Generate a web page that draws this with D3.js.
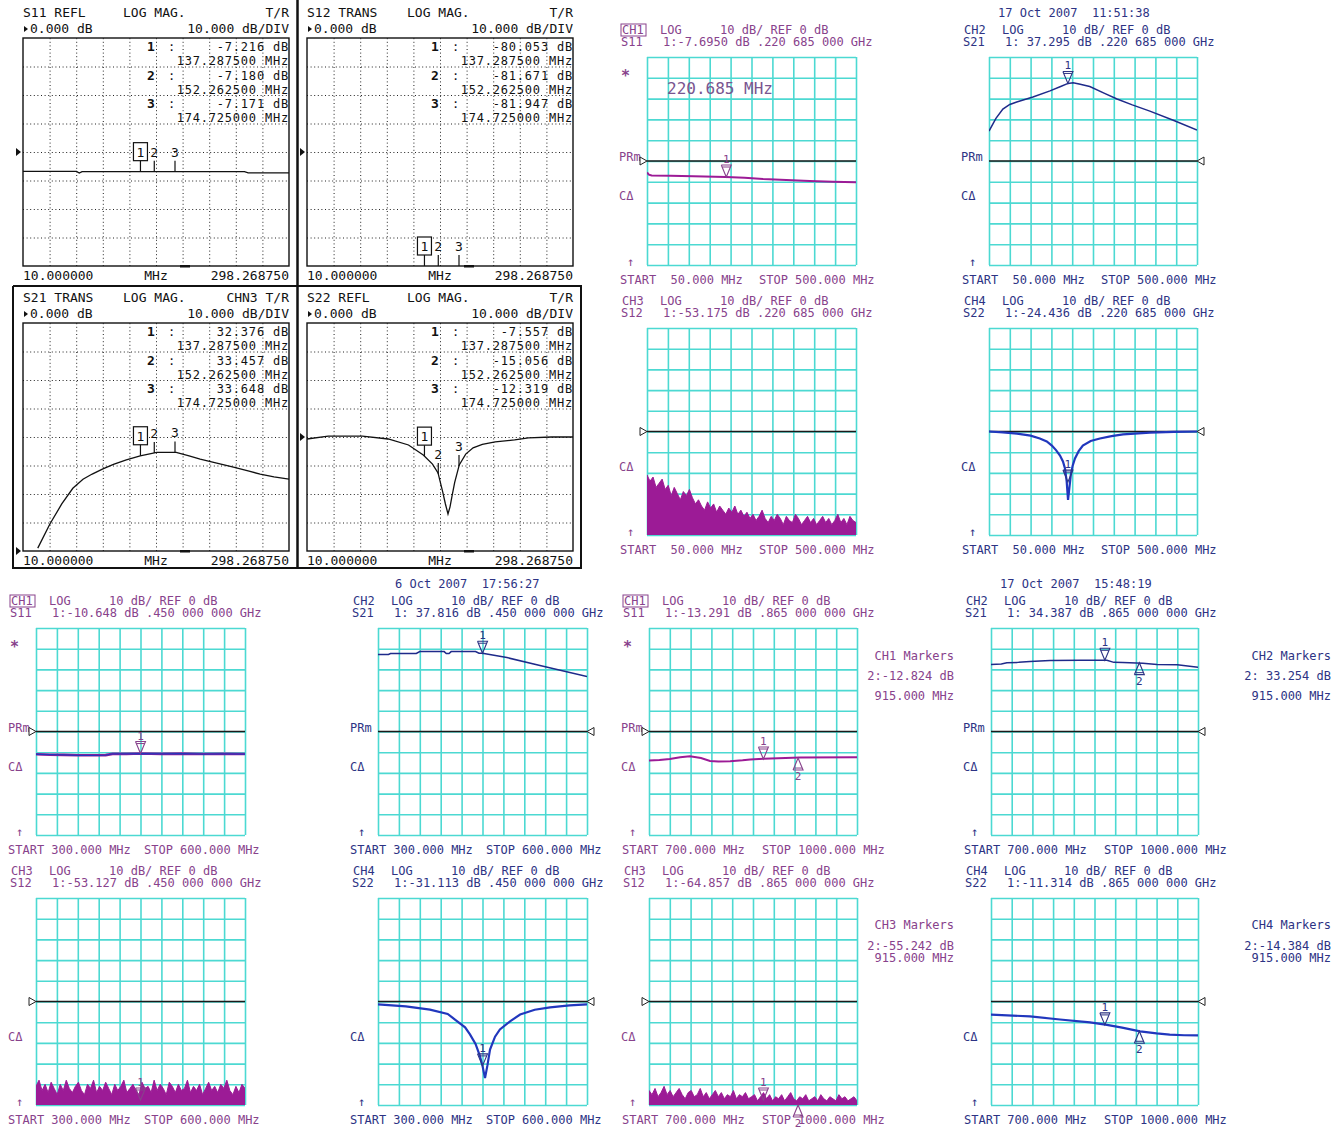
<!DOCTYPE html>
<meta charset="utf-8">

<!-- Load d3.js -->
<script src="https://d3js.org/d3.v7.min.js"></script>

<body style="margin:0;background:#fff">
<div id="screens"></div>
</body>

<style>
.dotgrid line { stroke: #222; stroke-width: 1; stroke-dasharray: 1 2.6; }
.cgrid line { stroke: #4cd9d2; stroke-width: 1.6; }
text { font-family: 'DejaVu Sans Mono', monospace; white-space: pre; }
</style>

<script>

// ---------- old analyzer screens (10 - 298.26875 MHz) ----------
var oldStart = 10, oldStop = 298.26875
var oldTitles = ["S11 REFL", "S12 TRANS", "S21 TRANS", "S22 REFL"]
var oldRightLabels = ["T/R", "T/R", "CHN3 T/R", "T/R"]
var oldMarkerFreqs = [137.2875, 152.2625, 174.725]
var oldMarkerFreqLabels = ["137.287500 MHz", "152.262500 MHz", "174.725000 MHz"]
var oldReadS11 = ["-7.216 dB", "-7.180 dB", "-7.171 dB"]
var oldReadS12 = ["-80.053 dB", "-81.671 dB", "-81.947 dB"]
var oldReadS21 = ["32.376 dB", "33.457 dB", "33.648 dB"]
var oldReadS22 = ["-7.557 dB", "-15.056 dB", "-12.319 dB"]

var oldS11Freq = [10, 68, 71, 74, 120, 180, 250, 254, 298.27]
var oldS11Db   = [-6.8, -6.8, -7.4, -6.9, -6.9, -6.9, -6.9, -7.3, -7.3]
var oldS12Freq = [10, 60, 120, 137.3, 152.3, 174.7, 230, 298.27]
var oldS12Db   = [-78, -79, -80, -80.1, -81.7, -81.9, -83, -84]
var oldS21Freq = [26, 39, 52, 64, 75, 85, 96, 108, 122, 137, 155, 176, 190, 202, 220, 238, 255, 267, 282, 298.27]
var oldS21Db   = [1.0, 9.4, 16.5, 22.0, 25.2, 27.0, 28.7, 30.4, 32.0, 33.4, 34.6, 34.6, 33.4, 32.2, 30.8, 29.4, 28.0, 27.0, 26.0, 25.2]
var oldS22Freq = [10, 33, 70, 98, 120, 136, 146, 152, 157, 160, 162.8, 165, 167, 170, 175, 182, 190, 200, 214, 235, 250, 275, 298.27]
var oldS22Db   = [-0.7, 0.3, 0.3, -0.7, -2.8, -6.3, -9.5, -12.6, -19.2, -23.5, -27, -24.5, -21, -16, -9.8, -6, -3.8, -2.6, -1.7, -1, -0.3, 0, 0]

// ---------- newer analyzer screens ----------
var channels = ["CH1", "CH2", "CH3", "CH4"]
var params = ["S11", "S21", "S12", "S22"]

// 50 - 500 MHz set
var aStart = 50, aStop = 500
var aStartLabel = "START  50.000 MHz", aStopLabel = "STOP 500.000 MHz"
var aDate = "17 Oct 2007  11:51:38"
var aReadouts = ["1:-7.6950 dB .220 685 000 GHz", "1: 37.295 dB .220 685 000 GHz",
                 "1:-53.175 dB .220 685 000 GHz", "1:-24.436 dB .220 685 000 GHz"]
var aMarkerFreq = 220.685
var aMarkerDb = [-7.695, 37.295, -53.175, -24.436]
var aMarkerShown = [true, true, false, true]
var aCenterNote = "220.685 MHz"
var aS11Freq = [50, 54, 60, 100, 150, 220, 260, 300, 350, 400, 450, 500]
var aS11Db   = [-5.5, -6.6, -7.0, -7.1, -7.3, -7.7, -8.0, -8.6, -9.1, -9.6, -10.0, -10.2]
var aS21Freq = [50, 65, 80, 95, 110, 145, 182, 205, 221, 232, 245, 268, 300, 327, 360, 398, 450, 500]
var aS21Db   = [14.4, 20.5, 25, 27.2, 28.4, 30.8, 33.7, 35.8, 37.3, 37.6, 37.0, 35.8, 32.5, 29.8, 27, 24, 19.5, 14.9]
var aS12Peaks = [-21,-24,-22,-27,-25,-23,-28,-26,-31,-27,
                 -30,-33,-29,-31,-28,-32,-35,-33,-36,-38,
                 -34,-37,-35,-39,-36,-38,-40,-37,-39,-36,
                 -40,-38,-41,-39,-42,-40,-43,-41,-38,-42,
                 -44,-41,-43,-40,-42,-45,-41,-43,-44,-40,
                 -42,-45,-43,-41,-44,-42,-45,-43,-41,-44,
                 -42,-45,-43,-40,-44,-42,-45,-41,-43,-44]
var aS22Freq = [50, 80, 110.6, 140, 160, 175, 186, 195, 203.6, 210, 214.4, 218, 221, 224, 227, 231, 236, 244, 253, 270, 290, 315, 340, 398, 450, 500]
var aS22Db   = [0, -0.4, -1, -2, -3.4, -4.8, -6.8, -9, -11.6, -14.5, -17.9, -24, -33, -27, -21, -16.5, -13, -9.5, -6.8, -4.6, -3.4, -2.2, -1.4, -0.5, -0.2, 0]

// 300 - 600 MHz set
var bStart = 300, bStop = 600
var bStartLabel = "START 300.000 MHz", bStopLabel = "STOP 600.000 MHz"
var bDate = "6 Oct 2007  17:56:27"
var bReadouts = ["1:-10.648 dB .450 000 000 GHz", "1: 37.816 dB .450 000 000 GHz",
                 "1:-53.127 dB .450 000 000 GHz", "1:-31.113 dB .450 000 000 GHz"]
var bMarkerFreq = 450
var bMarkerDb = [-10.648, 37.816, -53.127, -31.113]
var bS11Freq = [300, 320, 340, 360, 380, 400, 410, 430, 450, 480, 510, 540, 570, 600]
var bS11Db   = [-11.0, -11.2, -11.3, -11.5, -11.5, -11.4, -10.8, -10.8, -10.65, -10.8, -10.7, -10.9, -10.8, -10.9]
var bS21Freq = [300, 315, 318, 355, 360, 395, 398, 402, 405, 440, 445, 450, 485, 532.5, 600]
var bS21Db   = [37.2, 37.2, 37.7, 37.7, 38.6, 38.6, 37.7, 37.7, 38.6, 38.6, 37.8, 37.8, 35.7, 31.9, 26.6]
var bS12Peaks = [-41,-38,-43,-40,-44,-39,-42,-45,-40,-43,
                 -38,-42,-44,-41,-39,-43,-45,-40,-42,-38,
                 -44,-41,-43,-39,-42,-45,-40,-43,-41,-38,
                 -44,-42,-40,-43,-45,-39,-42,-41,-44,-38,
                 -43,-40,-42,-45,-39,-41,-44,-40,-43,-42,
                 -38,-44,-41,-43,-40,-45,-42,-39,-43,-41,
                 -44,-40,-42,-38,-43,-45,-41,-44,-40,-42]
var bS22Freq = [300, 340, 374.6, 400, 410.5, 425, 432, 440, 446, 450, 453.6, 457, 460.8, 468, 475, 490, 504, 525, 547, 575, 600]
var bS22Db   = [-1.4, -2.4, -3.9, -6, -8.7, -12.5, -15.9, -20.5, -26, -31.1, -37, -31, -23.2, -17, -13.5, -9.5, -6.3, -4, -2.8, -1.9, -1.4]

// 700 - 1000 MHz set
var cStart = 700, cStop = 1000
var cStartLabel = "START 700.000 MHz", cStopLabel = "STOP 1000.000 MHz"
var cDate = "17 Oct 2007  15:48:19"
var cReadouts = ["1:-13.291 dB .865 000 000 GHz", "1: 34.387 dB .865 000 000 GHz",
                 "1:-64.857 dB .865 000 000 GHz", "1:-11.314 dB .865 000 000 GHz"]
var cMarkerFreqs = [865, 915]
var cMarker1Db = [-13.291, 34.387, -64.857, -11.314]
var cMarker2Db = [-12.824, 33.254, -55.242, -14.384]
var cMarker2Text = ["2:-12.824 dB", "2: 33.254 dB", "2:-55.242 dB", "2:-14.384 dB"]
var cMarker2Freq = "915.000 MHz"
var cS11Freq = [700, 715, 730, 745, 759, 775, 788, 800, 817, 835, 846, 865, 918, 1000]
var cS11Db   = [-14, -13.8, -13.3, -12.4, -12.0, -12.8, -14.2, -14.5, -14.4, -13.9, -13.5, -13.2, -12.6, -12.4]
var cS21Freq = [700, 715, 723, 740, 756.5, 785.5, 830, 868, 878, 891, 920, 940.6, 970, 1000]
var cS21Db   = [32.4, 32.6, 33.2, 33.4, 33.8, 34.3, 34.4, 34.4, 33.4, 33.3, 33.0, 32.4, 32.2, 31.0]
var cS12Peaks = [-43,-45,-42,-46,-44,-41,-45,-43,-46,-44,
                 -42,-45,-47,-44,-43,-46,-45,-42,-46,-44,
                 -47,-45,-43,-46,-44,-47,-45,-46,-43,-47,
                 -45,-46,-44,-47,-46,-45,-48,-46,-44,-47,
                 -45,-48,-46,-47,-45,-48,-46,-44,-47,-48,
                 -46,-47,-45,-48,-47,-46,-48,-45,-47,-48,
                 -46,-47,-48,-45,-47,-46,-48,-47,-46,-48]
var cS22Freq = [700, 756.5, 800, 843.5, 868, 890, 916, 940, 959, 980, 1000]
var cS22Db   = [-6.3, -7.2, -8.7, -10.1, -11.3, -12.6, -14.4, -15.4, -16.0, -16.3, -16.4]

// colours
var purpleText = "#88428c", navyText = "#2d3384"
var purpleTrace = "#9c1b96", navyTrace = "#1e2a8a", blueTrace = "#2137bd"

var svg = d3.select("#screens").append("svg")
  .attr("width", 1343).attr("height", 1129)

var clipCount = 0
function clipFor(g, L, T, W, H) {
  var id = "clip" + (clipCount++)
  g.append("clipPath").attr("id", id).append("rect")
    .attr("x", L).attr("y", T).attr("width", W).attr("height", H)
  return "url(#" + id + ")"
}

function txt(g, x, y, s, o) {
  o = o || {}
  var t = g.append("text").attr("x", x).attr("y", y).text(s)
    .attr("font-size", o.size || 12).attr("fill", o.fill || "#111")
  if (o.anchor) t.attr("text-anchor", o.anchor)
  if (o.weight) t.attr("font-weight", o.weight)
  if (o.spacing) t.attr("letter-spacing", o.spacing)
  return t
}

// ---------------- old screen ----------------
function drawOldPanel(L, T, p) {
  var W = 266, H = 228, R = L + W, B = T + H
  var g = svg.append("g")
  var x = d3.scaleLinear().domain([oldStart, oldStop]).range([L, R])
  var y = d3.scaleLinear().domain(p.refBottom ? [0, 80] : [-40, 40]).range([B, T])
  var xDiv = d3.scaleLinear().domain([0, 10]).range([L, R])
  var yDiv = d3.scaleLinear().domain([0, 8]).range([B, T])

  g.append("g").attr("class", "dotgrid").attr("transform", "translate(0," + B + ")")
    .call(d3.axisBottom(xDiv).tickValues(d3.range(1, 10)).tickSize(-H).tickFormat(""))
  g.append("g").attr("class", "dotgrid").attr("transform", "translate(" + L + ",0)")
    .call(d3.axisLeft(yDiv).tickValues(d3.range(1, 8)).tickSize(-W).tickFormat(""))
  g.selectAll(".domain").remove()
  g.append("rect").attr("x", L).attr("y", T).attr("width", W).attr("height", H)
    .attr("fill", "none").attr("stroke", "#111").attr("stroke-width", 1.4)

  // header
  txt(g, L, T - 21, p.title, {size: 13})
  txt(g, L + 100, T - 21, "LOG MAG.", {size: 13})
  txt(g, R, T - 21, p.right, {size: 13, anchor: "end"})
  g.append("path").attr("d", d3.line()([[L + 1, T - 12], [L + 5, T - 9], [L + 1, T - 6]])).attr("fill", "#111")
  txt(g, L + 7, T - 5, "0.000 dB", {size: 13})
  txt(g, R, T - 5, "10.000 dB/DIV", {size: 13, anchor: "end"})

  // marker readouts
  p.readouts.forEach(function(r, i) {
    var base = T + 13 + i * 28.5
    txt(g, R - 142, base, String(i + 1), {size: 13, weight: "bold"})
    txt(g, R - 121, base, ":", {size: 12})
    txt(g, R, base, r, {size: 12, anchor: "end", spacing: 0.8})
    txt(g, R, base + 14, oldMarkerFreqLabels[i], {size: 12, anchor: "end", spacing: 0.8})
  })

  // reference pointer
  var yr = y(0)
  g.append("path").attr("d", d3.line()([[L - 7, yr - 4], [L - 2, yr], [L - 7, yr + 4]])).attr("fill", "#111")

  // trace
  var pts = p.freq.map(function(f, i) { return [f, p.db[i]] })
  g.append("path").datum(pts)
    .attr("clip-path", clipFor(g, L, T, W, H))
    .attr("fill", "none").attr("stroke", "#111").attr("stroke-width", 1.3)
    .attr("d", d3.line().x(function(d) { return x(d[0]) }).y(function(d) { return y(d[1]) }))

  // markers
  var interp = d3.scaleLinear().domain(p.freq).range(p.db).clamp(true)
  oldMarkerFreqs.forEach(function(f, i) {
    var mx = x(f), my = Math.max(T, Math.min(B, y(interp(f))))
    g.append("line").attr("x1", mx).attr("x2", mx).attr("y1", my - 11).attr("y2", my)
      .attr("stroke", "#111").attr("stroke-width", 1.2)
    if (i === 0) {
      g.append("rect").attr("x", mx - 7).attr("y", my - 29).attr("width", 14).attr("height", 18)
        .attr("fill", "#fff").attr("stroke", "#111").attr("stroke-width", 1.2)
    }
    txt(g, mx, my - 15, String(i + 1), {size: 13, anchor: "middle"})
  })

  // bottom line
  txt(g, L, B + 14, "10.000000", {size: 13})
  txt(g, L + 133, B + 14, "MHz", {size: 13, anchor: "middle"})
  txt(g, R, B + 14, "298.268750", {size: 13, anchor: "end"})
  g.append("rect").attr("x", L + 157).attr("y", B - 1).attr("width", 10).attr("height", 2.5).attr("fill", "#111")
}

drawOldPanel(23, 38, {title: oldTitles[0], right: oldRightLabels[0], readouts: oldReadS11, freq: oldS11Freq, db: oldS11Db})
drawOldPanel(307, 38, {title: oldTitles[1], right: oldRightLabels[1], readouts: oldReadS12, freq: oldS12Freq, db: oldS12Db})
drawOldPanel(23, 323, {title: oldTitles[2], right: oldRightLabels[2], readouts: oldReadS21, freq: oldS21Freq, db: oldS21Db, refBottom: true})
drawOldPanel(307, 323, {title: oldTitles[3], right: oldRightLabels[3], readouts: oldReadS22, freq: oldS22Freq, db: oldS22Db})

// frame of the old screen block
var frame = svg.append("g").attr("stroke", "#111").attr("fill", "none")
frame.append("line").attr("x1", 297.5).attr("x2", 297.5).attr("y1", 0).attr("y2", 569).attr("stroke-width", 2.5)
frame.append("line").attr("x1", 13).attr("x2", 582).attr("y1", 286).attr("y2", 286).attr("stroke-width", 2)
frame.append("line").attr("x1", 13).attr("x2", 13).attr("y1", 286).attr("y2", 569).attr("stroke-width", 2)
frame.append("line").attr("x1", 581).attr("x2", 581).attr("y1", 286).attr("y2", 569).attr("stroke-width", 2)
frame.append("line").attr("x1", 13).attr("x2", 582).attr("y1", 568).attr("y2", 568).attr("stroke-width", 2)

// ---------------- newer screen ----------------
function markerDown(g, mx, my, label, color) {
  g.append("path").attr("d", d3.line()([[mx - 5, my - 12], [mx + 5, my - 12], [mx, my], [mx - 5, my - 12]]))
    .attr("fill", "none").attr("stroke", color).attr("stroke-width", 1.1)
  g.append("line").attr("x1", mx - 4).attr("x2", mx + 4).attr("y1", my - 10).attr("y2", my - 10)
    .attr("stroke", color).attr("stroke-width", 1)
  txt(g, mx, my - 14, label, {size: 11, anchor: "middle", fill: color})
}
function markerUp(g, mx, my, label, color) {
  g.append("path").attr("d", d3.line()([[mx - 5, my + 12], [mx + 5, my + 12], [mx, my], [mx - 5, my + 12]]))
    .attr("fill", "none").attr("stroke", color).attr("stroke-width", 1.1)
  g.append("line").attr("x1", mx - 4).attr("x2", mx + 4).attr("y1", my + 10).attr("y2", my + 10)
    .attr("stroke", color).attr("stroke-width", 1)
  txt(g, mx, my + 22, label, {size: 11, anchor: "middle", fill: color})
}

function drawNewPanel(p) {
  var L = p.box[0], T = p.box[1], W = p.box[2], H = p.box[3], R = L + W, B = T + H
  var g = svg.append("g")
  var x = d3.scaleLinear().domain([p.start, p.stop]).range([L, R])
  var y = d3.scaleLinear().domain([-50, 50]).range([B, T])
  var xDiv = d3.scaleLinear().domain([0, 10]).range([L, R])
  var yDiv = d3.scaleLinear().domain([0, 10]).range([B, T])
  var tc = p.textColor

  g.append("g").attr("class", "cgrid").attr("transform", "translate(0," + B + ")")
    .call(d3.axisBottom(xDiv).tickValues(d3.range(0, 11)).tickSize(-H).tickFormat(""))
  g.append("g").attr("class", "cgrid").attr("transform", "translate(" + L + ",0)")
    .call(d3.axisLeft(yDiv).tickValues(d3.range(0, 11)).tickSize(-W).tickFormat(""))
  g.selectAll(".domain").remove()

  // header lines
  if (p.boxed) {
    g.append("rect").attr("x", L - 26).attr("y", T - 33).attr("width", 25).attr("height", 12)
      .attr("fill", "none").attr("stroke", tc).attr("stroke-width", 1)
  }
  txt(g, L - 25, T - 23, p.ch, {fill: tc})
  txt(g, L + 13, T - 23, "LOG", {fill: tc})
  txt(g, L + 73, T - 23, "10 dB/ REF 0 dB", {fill: tc})
  txt(g, L - 26, T - 11, p.param, {fill: tc})
  txt(g, L + 16, T - 11, p.readout, {fill: tc})
  if (p.date) txt(g, L + p.dateDx, T - 40, p.date, {fill: tc})

  // side labels
  var yr = y(0)
  if (p.star) txt(g, L - 26, T + 24, "*", {size: 15, fill: tc, weight: "bold"})
  if (p.prm) txt(g, L - 28, yr, "PRm", {fill: tc})
  txt(g, L - 28, T + 143, "C\u0394", {fill: tc})
  txt(g, L - 20, B + 1, "\u2191", {fill: tc})
  txt(g, L + p.startDx, B + 19, p.startLabel, {fill: tc})
  txt(g, L + p.stopDx, B + 19, p.stopLabel, {fill: tc})
  if (p.note) txt(g, L + 20, T + 37, p.note, {size: 16, fill: "#7a5590"})

  // reference line and pointer
  g.append("line").attr("x1", L).attr("x2", R).attr("y1", yr).attr("y2", yr)
    .attr("stroke", "#1a1a1a").attr("stroke-width", 1.3)
  var tri = p.refLeft ? [[L - 7, yr - 4], [L, yr], [L - 7, yr + 4], [L - 7, yr - 4]]
                      : [[R + 7, yr - 4], [R, yr], [R + 7, yr + 4], [R + 7, yr - 4]]
  g.append("path").attr("d", d3.line()(tri)).attr("fill", "#fff").attr("stroke", "#222").attr("stroke-width", 1)

  var clip = clipFor(g, L, T, W, H)
  if (p.peaks) {
    var bin = d3.scaleLinear().domain([0, p.peaks.length - 1]).range([p.start, p.stop])
    g.append("path").datum(p.peaks).attr("clip-path", clip)
      .attr("fill", p.trace).attr("stroke", p.trace).attr("stroke-width", 1)
      .attr("d", d3.area()
        .x(function(d, i) { return x(bin(i)) })
        .y0(B + 2)
        .y1(function(d) { return y(d) }))
  } else {
    var pts = p.freq.map(function(f, i) { return [f, p.db[i]] })
    var line = d3.line().x(function(d) { return x(d[0]) }).y(function(d) { return y(d[1]) })
    if (p.under) {
      g.append("path").datum(pts).attr("clip-path", clip).attr("fill", "none")
        .attr("stroke", p.under).attr("stroke-width", 2.6).attr("d", line)
    }
    g.append("path").datum(pts).attr("clip-path", clip).attr("fill", "none")
      .attr("stroke", p.trace).attr("stroke-width", p.width || 1.6).attr("d", line)
  }

  // markers (off-screen values sit just inside the bottom edge)
  p.markers.forEach(function(m) {
    var mx = x(m.f)
    var my = Math.max(T, Math.min(m.up ? B : B - 5, y(m.db)))
    if (m.up) markerUp(g, mx, my, m.label, tc)
    else markerDown(g, mx, my, m.label, tc)
  })

  // marker list on the right
  if (p.list) {
    p.list.forEach(function(s, i) {
      txt(g, R + p.listDx, T + p.listDy[i], s, {fill: tc, anchor: "end"})
    })
  }
}

var traces = {
  a: [{freq: aS11Freq, db: aS11Db}, {freq: aS21Freq, db: aS21Db}, {peaks: aS12Peaks}, {freq: aS22Freq, db: aS22Db}],
  b: [{freq: bS11Freq, db: bS11Db}, {freq: bS21Freq, db: bS21Db}, {peaks: bS12Peaks}, {freq: bS22Freq, db: bS22Db}],
  c: [{freq: cS11Freq, db: cS11Db}, {freq: cS21Freq, db: cS21Db}, {peaks: cS12Peaks}, {freq: cS22Freq, db: cS22Db}]
}

var groups = [
  {key: "a", boxes: [[647, 57, 209, 208], [989, 57, 208, 208], [647, 328, 209, 207], [989, 328, 208, 207]],
   start: aStart, stop: aStop, startLabel: aStartLabel, stopLabel: aStopLabel, startDx: -27, stopDx: 112,
   date: aDate, dateDx: 9, readouts: aReadouts},
  {key: "b", boxes: [[36, 628, 209, 207], [378, 628, 209, 207], [36, 898, 209, 207], [378, 898, 209, 207]],
   start: bStart, stop: bStop, startLabel: bStartLabel, stopLabel: bStopLabel, startDx: -28, stopDx: 108,
   date: bDate, dateDx: 17, readouts: bReadouts},
  {key: "c", boxes: [[649, 628, 208, 207], [991, 628, 207, 207], [649, 898, 208, 207], [991, 898, 207, 207]],
   start: cStart, stop: cStop, startLabel: cStartLabel, stopLabel: cStopLabel, startDx: -27, stopDx: 113,
   date: cDate, dateDx: 9, readouts: cReadouts}
]

groups.forEach(function(gr) {
  channels.forEach(function(ch, i) {
    var purple = (i % 2 === 0)
    var p = {
      box: gr.boxes[i], start: gr.start, stop: gr.stop,
      startLabel: gr.startLabel, stopLabel: gr.stopLabel, startDx: gr.startDx, stopDx: gr.stopDx,
      ch: ch, param: params[i], readout: gr.readouts[i],
      textColor: purple ? purpleText : navyText,
      boxed: i === 0, star: i === 0, prm: i < 2, refLeft: purple,
      date: i === 1 ? gr.date : null, dateDx: gr.dateDx,
      markers: []
    }
    var t = traces[gr.key][i]
    p.freq = t.freq; p.db = t.db; p.peaks = t.peaks
    if (i === 0) { p.trace = purpleTrace; p.width = 2 }
    if (i === 1) { p.trace = navyTrace; p.width = 1.5 }
    if (i === 2) { p.trace = purpleTrace }
    if (i === 3) { p.trace = blueTrace; p.width = 2.2 }

    if (gr.key === "a") {
      if (aMarkerShown[i]) p.markers.push({f: aMarkerFreq, db: aMarkerDb[i], label: "1"})
      if (i === 0) p.note = aCenterNote
    }
    if (gr.key === "b") {
      p.markers.push({f: bMarkerFreq, db: bMarkerDb[i], label: "1"})
      if (i === 0) { p.trace = blueTrace; p.under = purpleTrace; p.width = 1.3 }
    }
    if (gr.key === "c") {
      p.markers.push({f: cMarkerFreqs[0], db: cMarker1Db[i], label: "1"})
      p.markers.push({f: cMarkerFreqs[1], db: cMarker2Db[i], label: "2", up: true})
      p.list = [ch + " Markers", cMarker2Text[i], cMarker2Freq]
      p.listDx = purple ? 97 : 133
      p.listDy = i < 2 ? [32, 52, 72] : [31, 52, 64]
    }
    drawNewPanel(p)
  })
})

</script>
